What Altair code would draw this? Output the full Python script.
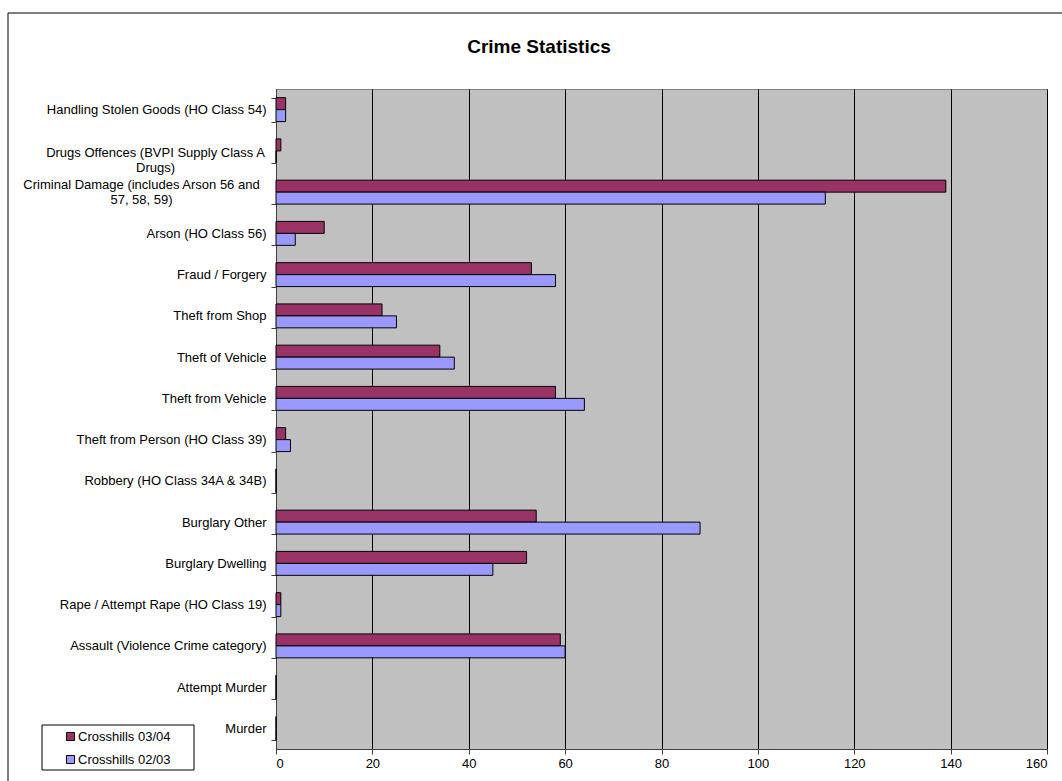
import altair as alt
import pandas as pd

# Crime categories, top to bottom
categories = [
    "Handling Stolen Goods (HO Class 54)",
    "Drugs Offences (BVPI Supply Class A Drugs)",
    "Criminal Damage (includes Arson 56 and 57, 58, 59)",
    "Arson (HO Class 56)",
    "Fraud / Forgery",
    "Theft from Shop",
    "Theft of Vehicle",
    "Theft from Vehicle",
    "Theft from Person (HO Class 39)",
    "Robbery (HO Class 34A & 34B)",
    "Burglary Other",
    "Burglary Dwelling",
    "Rape / Attempt Rape (HO Class 19)",
    "Assault (Violence Crime category)",
    "Attempt Murder",
    "Murder",
]
crosshills_0304 = [2, 1, 139, 10, 53, 22, 34, 58, 2, 0, 54, 52, 1, 59, 0, 0]
crosshills_0203 = [2, 0, 114, 4, 58, 25, 37, 64, 3, 0, 88, 45, 1, 60, 0, 0]
series_names = ["Crosshills 03/04", "Crosshills 02/03"]
series_colors = ["#993366", "#9999FF"]
x_ticks = [0, 20, 40, 60, 80, 100, 120, 140, 160]
chart_title = "Crime Statistics"

rows = []
for crime, a, b in zip(categories, crosshills_0304, crosshills_0203):
    rows.append({"crime": crime, "series": series_names[0], "count": a})
    rows.append({"crime": crime, "series": series_names[1], "count": b})
df = pd.DataFrame(rows)

FONT = "Liberation Sans"
LEFT, TOP, RIGHT, BOTTOM = 276, 89, 15, 32
PLOT_W, PLOT_H = 771, 660

DRUGS = categories[1]
DAMAGE = categories[2]
label_expr = (
    f"datum.value == '{DRUGS}' ? ['Drugs Offences (BVPI Supply Class A', 'Drugs)'] : "
    f"datum.value == '{DAMAGE}' ? ['Criminal Damage (includes Arson 56 and', '57, 58, 59)'] : "
    "datum.label"
)
is_drugs = f"datum.value == '{DRUGS}'"
is_damage = f"datum.value == '{DAMAGE}'"
is_wrapped = f"{is_drugs} || {is_damage}"

y_axis = alt.Axis(
    title=None,
    labelExpr=label_expr,
    labelFont=FONT,
    labelFontSize=13,
    labelColor="black",
    labelLineHeight=15,
    labelLimit=400,
    labelAlign={"condition": {"test": is_wrapped, "value": "center"}, "value": "right"},
    labelPadding={
        "condition": [
            {"test": is_drugs, "value": 116},
            {"test": is_damage, "value": 130},
        ],
        "value": 5,
    },
    labelOffset={
        "condition": [
            {"test": is_drugs, "value": 2},
            {"test": is_damage, "value": -8},
        ],
        "value": 0,
    },
    tickBand="extent",
    tickSize=5,
    tickColor="#404040",
    domainColor="#404040",
    grid=False,
)

x_axis = alt.Axis(
    title=None,
    values=x_ticks,
    grid=True,
    gridColor="black",
    gridWidth=1,
    tickSize=5,
    tickColor="#404040",
    domainColor="#404040",
    labelFont=FONT,
    labelFontSize=13,
    labelColor="black",
    labelPadding=3,
)

bars = alt.Chart(df).mark_bar(stroke="black", strokeWidth=1).encode(
    x=alt.X("count:Q", scale=alt.Scale(domain=[0, 160], nice=False), axis=x_axis),
    y=alt.Y(
        "crime:N",
        sort=categories,
        scale=alt.Scale(paddingInner=0.42, paddingOuter=0.21),
        axis=y_axis,
    ),
    yOffset=alt.YOffset(
        "series:N", sort=series_names, scale=alt.Scale(paddingInner=0, paddingOuter=0)
    ),
    color=alt.Color(
        "series:N",
        scale=alt.Scale(domain=series_names, range=series_colors),
        legend=alt.Legend(
            title=None,
            orient="none",
            legendX=-212,
            legendY=641,
            symbolType="square",
            symbolSize=64,
            symbolStrokeColor="black",
            symbolStrokeWidth=1,
            labelFont=FONT,
            labelFontSize=13,
            labelColor="black",
            labelOffset=1,
            rowPadding=9,
            padding=0,
        ),
    ),
)

one = pd.DataFrame({"k": [0]})

# Outer chart frame
frame = alt.Chart(one).mark_rect(fill="white", fillOpacity=0, stroke="black", strokeWidth=1).encode(
    x=alt.value(8 - LEFT),
    x2=alt.value(PLOT_W + RIGHT + 20),
    y=alt.value(13 - TOP),
    y2=alt.value(PLOT_H + BOTTOM + 20),
)

# Box behind the legend entries
legend_box = alt.Chart(one).mark_rect(fill="white", stroke="black", strokeWidth=1).encode(
    x=alt.value(42 - LEFT),
    x2=alt.value(194 - LEFT),
    y=alt.value(725 - TOP),
    y2=alt.value(770 - TOP),
)

# Chart heading, centred on the whole frame
heading = alt.Chart(one).mark_text(
    font=FONT, fontSize=19, fontWeight="bold", color="black",
    align="center", baseline="middle",
).encode(
    text=alt.value(chart_title),
    x=alt.value(539 - LEFT),
    y=alt.value(47 - TOP),
)

chart = (
    alt.layer(frame, legend_box, heading, bars)
    .properties(
        width=PLOT_W,
        height=PLOT_H,
        autosize=alt.AutoSizeParams(type="none"),
        padding={"left": LEFT, "top": TOP, "right": RIGHT, "bottom": BOTTOM},
        background="white",
    )
    .configure_view(fill="#C0C0C0", stroke="#808080", strokeWidth=1)
)

chart.save("out.html", embed_options={"renderer": "svg", "actions": False})
